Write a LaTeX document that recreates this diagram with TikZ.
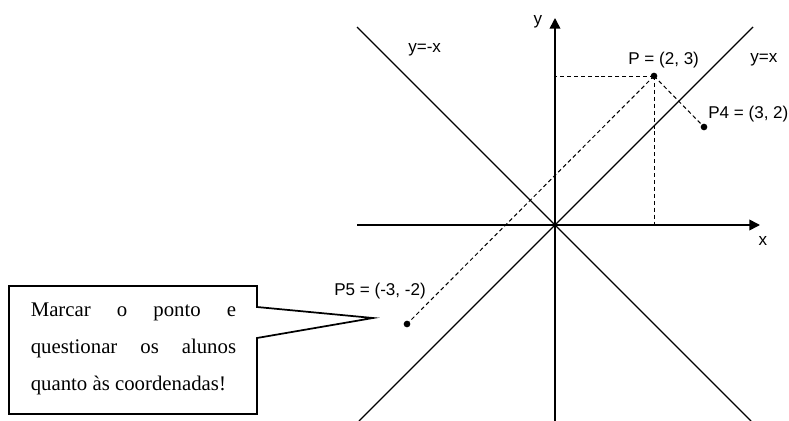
\documentclass[tikz,border=0pt]{standalone}
\usepackage{fontspec}
\setmainfont{Liberation Serif}
\setsansfont{Liberation Sans}
\usetikzlibrary{arrows.meta}
\begin{document}
\begin{tikzpicture}[x=0.75pt,y=-0.75pt,
  axisline/.style={line width=1.2pt,-{Triangle[length=8pt,width=8pt]}},
  diagline/.style={line width=1.05pt},
  helper/.style={dashed,dash pattern=on 3pt off 2.2pt,line width=0.75pt},
  pt/.style={circle,fill=black,inner sep=0pt,minimum size=5pt},
  lbl/.style={font=\sffamily\fontsize{12.8pt}{15pt}\selectfont,inner sep=0pt},
  callout/.style={line width=1.3pt,fill=white}]
\useasboundingbox (0,0) rectangle (789,421);
% origin and axis ends
\coordinate (O) at (555,225);
\coordinate (xl) at (357,225);
\coordinate (xr) at (760,225);
\coordinate (yb) at (555,421);
\coordinate (yt) at (555,18);
\coordinate (dxa) at (359,421);
\coordinate (dxb) at (753,27);
\coordinate (dya) at (357,27);
\coordinate (dyb) at (751,421);
% diagonals
\draw[diagline] (dxa) -- (dxb);
\draw[diagline] (dya) -- (dyb);
% axes
\draw[axisline] (xl) -- (xr);
\draw[axisline] (yb) -- (yt);
% points
\node[pt] (P) at (654,76) {};
\node[pt] (P4) at (704,127) {};
\node[pt] (P5) at (407,324) {};
\coordinate (Py) at (555,76);
\coordinate (Px) at (654,225);
% dashed helpers
\draw[helper] (P.center) -- (Py);
\draw[helper] (P.center) -- (Px);
\draw[helper] (P.center) -- (P4.center);
\draw[helper] (P.center) -- (P5.center);
% labels
\node[lbl,anchor=base] (ly) at (538,24) {y};
\node[lbl,anchor=base] (lx) at (763,245) {x};
\node[lbl,anchor=base west] (lyx) at (408,52) {y=-x};
\node[lbl,anchor=base west] (lyxp) at (750,62) {y=x};
\node[lbl,anchor=base west] (lP) at (628,64) {P = (2, 3)};
\node[lbl,anchor=base west] (lP4) at (708,118) {P4 = (3, 2)};
\node[lbl,anchor=base west] (lP5) at (334,295) {P5 = (-3, -2)};
% callout box
\draw[callout] (9,286) -- (257,286) -- (257,307) -- (373,318) -- (257,338) -- (257,414) -- (9,414) -- cycle;
\node[anchor=base west,inner sep=0pt,text width=154pt,align=justify,
  font=\rmfamily\fontsize{15.6pt}{27.75pt}\selectfont] (note) at (30.5,316)
  {\tolerance=10000\hbadness=10000\hyphenpenalty=10000
   Marcar o ponto e\linebreak questionar os alunos\linebreak quanto às coordenadas!};
\end{tikzpicture}
\end{document}
